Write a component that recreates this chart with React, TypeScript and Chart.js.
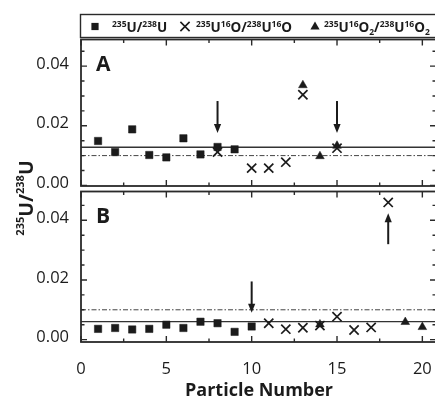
import React, { useEffect, useRef } from "react";
import { Chart, registerables } from "chart.js";

Chart.register(...registerables);

// ---------- data ----------
const squaresAX = [1, 2, 3, 4, 5, 6, 7, 8, 9];
const squaresAY = [0.0149, 0.0112, 0.0188, 0.0102, 0.0094, 0.0158, 0.0104, 0.0129, 0.0121];
const crossesAX = [8, 10, 11, 12, 13, 15];
const crossesAY = [0.0112, 0.0058, 0.0058, 0.0078, 0.0304, 0.0125];
const trianglesAX = [13, 14, 15];
const trianglesAY = [0.0336, 0.0098, 0.0133];

const squaresBX = [1, 2, 3, 4, 5, 6, 7, 8, 9, 10];
const squaresBY = [0.0036, 0.0039, 0.0034, 0.0036, 0.005, 0.0039, 0.006, 0.0055, 0.0026, 0.0044];
const crossesBX = [11, 12, 13, 14, 15, 16, 17, 18];
const crossesBY = [0.0055, 0.0035, 0.004, 0.0047, 0.0077, 0.0032, 0.0041, 0.046];
const trianglesBX = [14, 19, 20];
const trianglesBY = [0.0051, 0.0059, 0.0042];

const solidLineA = 0.0128;
const solidLineB = 0.006;
const dashedLine = 0.01;
const lineSpan = [0, 20.8];

const arrowsAX = [8, 15];
const arrowsAFrom = [0.0283, 0.0283];
const arrowsATo = [0.0176, 0.0176];
const arrowsBX = [10, 18];
const arrowsBFrom = [0.0195, 0.032];
const arrowsBTo = [0.009, 0.0424];

const xTickLabels = [0, 5, 10, 15, 20];
const xMinorTicks = [2.5, 7.5, 12.5, 17.5];
const yTickLabels = [0, 0.02, 0.04];
const yMinorTicks = [0.005, 0.01, 0.015, 0.025, 0.03, 0.035, 0.045];

const panelLabels = ["A", "B"];
const xTitle = "Particle Number";
// rich text parts: [kind, text]; kind: "n" normal, "^" superscript, "_" subscript
const yTitle: [string, string][] = [["^", "235"], ["n", "U/"], ["^", "238"], ["n", "U"]];
const legendLabels: [string, string][][] = [
  [["^", "235"], ["n", "U/"], ["^", "238"], ["n", "U"]],
  [["^", "235"], ["n", "U"], ["^", "16"], ["n", "O/"], ["^", "238"], ["n", "U"], ["^", "16"], ["n", "O"]],
  [["^", "235"], ["n", "U"], ["^", "16"], ["n", "O"], ["_", "2"], ["n", "/"], ["^", "238"], ["n", "U"], ["^", "16"], ["n", "O"], ["_", "2"]],
];

// ---------- style ----------
const FONT = "'Open Sans', 'DejaVu Sans', sans-serif";
const INK = "#1b1b1b";
const FRAME = "#2a2a2a";
const W = 445;
const H = 400;

const pts = (xs: number[], ys: number[]) => xs.map((x, i) => ({ x, y: ys[i] }));
const hline = (y: number) => lineSpan.map((x) => ({ x, y }));

function drawRich(ctx: CanvasRenderingContext2D, parts: [string, string][], x: number, y: number, base: number, small: number, supOff: number, subOff: number, measureOnly = false) {
  let cx = x;
  for (const [k, t] of parts) {
    const size = k === "n" ? base : small;
    ctx.font = `bold ${size}px ${FONT}`;
    const dy = k === "^" ? -supOff : k === "_" ? subOff : 0;
    if (!measureOnly) ctx.fillText(t, cx, y + dy);
    cx += ctx.measureText(t).width;
  }
  return cx - x;
}

function drawArrow(ctx: CanvasRenderingContext2D, x: number, y1: number, y2: number) {
  const dir = y2 > y1 ? 1 : -1;
  const headLen = 9;
  const headHalf = 3.6;
  ctx.beginPath();
  ctx.lineWidth = 2;
  ctx.moveTo(x, y1);
  ctx.lineTo(x, y2 - dir * headLen + dir);
  ctx.stroke();
  ctx.beginPath();
  ctx.moveTo(x, y2);
  ctx.lineTo(x - headHalf, y2 - dir * headLen);
  ctx.lineTo(x + headHalf, y2 - dir * headLen);
  ctx.closePath();
  ctx.fill();
}

const decorPlugin = {
  id: "decor",
  afterDraw(chart: any) {
    const ctx: CanvasRenderingContext2D = chart.ctx;
    const xs = chart.scales.x;
    const panels = [
      { s: chart.scales.yA, top: 39.5, bottom: 186, arrows: [arrowsAX, arrowsAFrom, arrowsATo] },
      { s: chart.scales.yB, top: 191.5, bottom: 342, arrows: [arrowsBX, arrowsBFrom, arrowsBTo] },
    ];
    const left = xs.left;
    const right = xs.right;
    ctx.save();
    ctx.strokeStyle = FRAME;
    ctx.fillStyle = INK;
    panels.forEach((p, idx) => {
      // frame
      ctx.lineWidth = 1.8;
      ctx.strokeRect(left, p.top, right - left, p.bottom - p.top);
      ctx.lineWidth = 1.4;
      ctx.beginPath();
      const tick = (x1: number, y1: number, x2: number, y2: number) => {
        ctx.moveTo(x1, y1);
        ctx.lineTo(x2, y2);
      };
      yTickLabels.forEach((v) => {
        const y = p.s.getPixelForValue(v);
        tick(left, y, left + 6, y);
        tick(right, y, right - 6, y);
      });
      yMinorTicks.forEach((v) => {
        const y = p.s.getPixelForValue(v);
        if (y < p.top + 1 || y > p.bottom - 1) return;
        tick(left, y, left + 3.5, y);
        tick(right, y, right - 3.5, y);
      });
      xTickLabels.forEach((v) => {
        const x = xs.getPixelForValue(v);
        tick(x, p.top, x, p.top + 6);
        tick(x, p.bottom, x, p.bottom - 6);
      });
      xMinorTicks.forEach((v) => {
        const x = xs.getPixelForValue(v);
        tick(x, p.top, x, p.top + 3.5);
        tick(x, p.bottom, x, p.bottom - 3.5);
      });
      ctx.stroke();
      // arrows
      const [ax, af, at] = p.arrows;
      ctx.strokeStyle = INK;
      ax.forEach((xv, i) => {
        drawArrow(ctx, xs.getPixelForValue(xv), p.s.getPixelForValue(af[i]), p.s.getPixelForValue(at[i]));
      });
      ctx.strokeStyle = FRAME;
      // panel label
      ctx.font = `bold 21px ${FONT}`;
      ctx.textBaseline = "alphabetic";
      ctx.textAlign = "left";
      ctx.fillText(panelLabels[idx], left + 15, p.top + 31);
    });

    // legend box
    ctx.lineWidth = 1.4;
    ctx.strokeStyle = FRAME;
    ctx.strokeRect(80.5, 14.5, W, 23);
    const ly = 26.5;
    // square
    ctx.fillRect(95 - 3.6, ly - 3.6, 7.2, 7.2);
    // cross
    ctx.lineWidth = 1.6;
    ctx.strokeStyle = INK;
    ctx.beginPath();
    ctx.moveTo(185 - 4.6, ly - 4.6);
    ctx.lineTo(185 + 4.6, ly + 4.6);
    ctx.moveTo(185 + 4.6, ly - 4.6);
    ctx.lineTo(185 - 4.6, ly + 4.6);
    ctx.stroke();
    // triangle
    ctx.beginPath();
    ctx.moveTo(315, ly - 5);
    ctx.lineTo(315 + 4.6, ly + 3);
    ctx.lineTo(315 - 4.6, ly + 3);
    ctx.closePath();
    ctx.fill();
    const lx = [112, 196, 324];
    ctx.textBaseline = "alphabetic";
    legendLabels.forEach((parts, i) => drawRich(ctx, parts, lx[i], 32, 13.5, 8.5, 5.5, 3));

    // x title
    ctx.font = `bold 18px ${FONT}`;
    ctx.textAlign = "center";
    ctx.fillText(xTitle, 259, 396);

    // y title
    ctx.save();
    ctx.translate(33, 198);
    ctx.rotate(-Math.PI / 2);
    ctx.textAlign = "left";
    const w = drawRich(ctx, yTitle, 0, 0, 19.5, 11, 9, 0, true);
    drawRich(ctx, yTitle, -w / 2, 0, 19.5, 11, 9, 0);
    ctx.restore();
    ctx.restore();
  },
};

export default function App() {
  const ref = useRef<HTMLCanvasElement>(null);
  useEffect(() => {
    document.documentElement.style.overflow = "hidden";
    document.body.style.overflow = "hidden";
    const canvas = ref.current!;
    const mk = (data: any[], yAxisID: string, style: string, radius: number, filled: boolean, bw: number) => ({
      data,
      yAxisID,
      xAxisID: "x",
      pointStyle: style,
      pointRadius: radius,
      backgroundColor: filled ? INK : "rgba(0,0,0,0)",
      borderColor: INK,
      borderWidth: bw,
      showLine: false,
    });
    const ln = (data: any[], yAxisID: string, dash: number[], width: number, color: string) => ({
      data,
      yAxisID,
      xAxisID: "x",
      showLine: true,
      pointRadius: 0,
      borderColor: color,
      borderWidth: width,
      borderDash: dash,
      fill: false,
    });
    const yScale = (weight: number, min: number, max: number) => ({
      type: "linear",
      position: "left",
      stack: "panels",
      stackWeight: weight,
      min,
      max,
      grid: { display: false },
      border: { display: false },
      afterBuildTicks: (s: any) => {
        s.ticks = yTickLabels.map((v) => ({ value: v }));
      },
      afterFit: (s: any) => {
        s.width = 81;
      },
      ticks: {
        font: { family: FONT, size: 16.5 },
        color: INK,
        padding: 4,
        labelOffset: -2,
        callback: (v: any) => Number(v).toFixed(2),
      },
    });
    const chart = new Chart(canvas, {
      type: "scatter",
      data: {
        datasets: [
          mk(pts(trianglesAX, trianglesAY), "yA", "triangle", 5, true, 0.5),
          mk(pts(crossesAX, crossesAY), "yA", "crossRot", 6.5, false, 1.7),
          mk(pts(squaresAX, squaresAY), "yA", "rect", 5.2, true, 0.5),
          mk(pts(trianglesBX, trianglesBY), "yB", "triangle", 5, true, 0.5),
          mk(pts(crossesBX, crossesBY), "yB", "crossRot", 6.5, false, 1.7),
          mk(pts(squaresBX, squaresBY), "yB", "rect", 5.2, true, 0.5),
          ln(hline(solidLineA), "yA", [], 1.3, "#333"),
          ln(hline(dashedLine), "yA", [5, 2, 1.5, 2], 1, "#444"),
          ln(hline(solidLineB), "yB", [], 1.3, "#333"),
          ln(hline(dashedLine), "yB", [5, 2, 1.5, 2], 1, "#444"),
        ] as any,
      },
      options: {
        responsive: false,
        animation: false,
        devicePixelRatio: 1,
        layout: { padding: { top: 39, right: W - 436, left: 0, bottom: 0 } },
        plugins: { legend: { display: false }, tooltip: { enabled: false } },
        scales: {
          x: {
            type: "linear",
            position: "bottom",
            min: 0,
            max: 20.8,
            grid: { display: false },
            border: { display: false },
            afterBuildTicks: (s: any) => {
              s.ticks = xTickLabels.map((v) => ({ value: v }));
            },
            afterFit: (s: any) => {
              s.height = H - 342;
            },
            ticks: {
              font: { family: FONT, size: 16.5 },
              color: INK,
              padding: 9,
              maxRotation: 0,
              autoSkip: false,
              callback: (v: any) => String(v),
            },
          },
          // listed bottom-first: Chart.js stacks left boxes in reverse order
          yB: yScale(153, -0.0008, 0.0505),
          yA: yScale(150, -0.0012, 0.0491),
        } as any,
      },
      plugins: [decorPlugin],
    });
    return () => chart.destroy();
  }, []);
  return (
    <div style={{ position: "fixed", left: 0, top: 0, width: W, height: H, overflow: "hidden", background: "#fff" }}>
      <canvas ref={ref} width={W} height={H} style={{ display: "block", width: W, height: H }} />
    </div>
  );
}
